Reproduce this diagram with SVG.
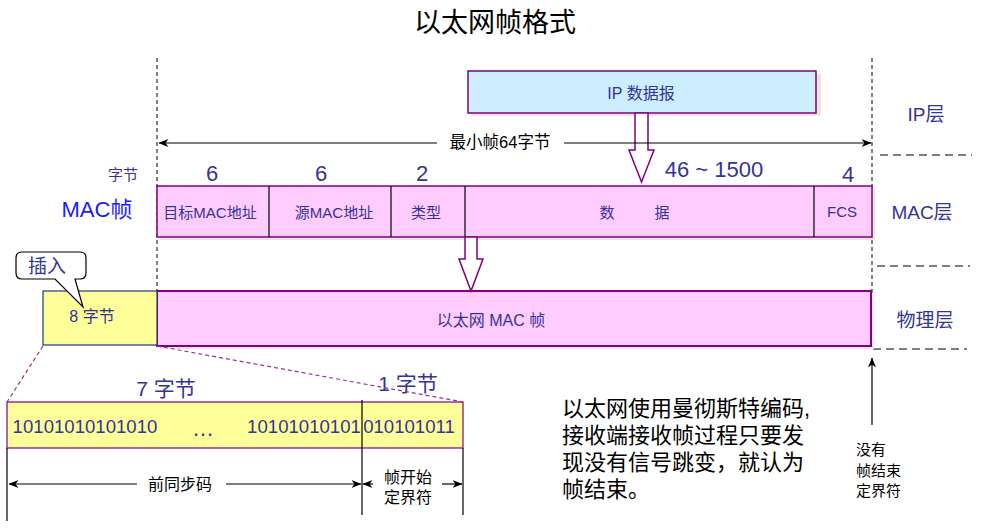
<svg xmlns="http://www.w3.org/2000/svg" width="993" height="528" viewBox="0 0 993 528">
<defs>
<marker id="ah" viewBox="0 0 10 8" refX="9.5" refY="4" markerWidth="10" markerHeight="8" markerUnits="userSpaceOnUse" orient="auto-start-reverse">
<path d="M0,0 L10,4 L0,8 L3,4 Z" fill="#000"/>
</marker>
</defs>
<style>
text{font-family:"Liberation Sans","Noto Sans CJK SC",sans-serif;}
.b{fill:#333399;}
.k{fill:#000;}
.pink{fill:#ffccff;stroke:#800080;stroke-width:1.5;}
.yel{fill:#ffff99;stroke:#800080;stroke-width:1.2;}
.sh{fill:#e9e6da;}
.div{stroke:#000;stroke-width:1.2;}
.vd{stroke:#000;stroke-width:1;stroke-dasharray:4,3;fill:none;}
.hd{stroke:#555;stroke-width:1.3;stroke-dasharray:8,5;fill:none;}
.pd{stroke:#993399;stroke-width:1.2;stroke-dasharray:4,3;fill:none;}
.ln{stroke:#000;stroke-width:1.2;fill:none;}
.hollow{fill:#fff;stroke:#800080;stroke-width:1.5;}
</style>
<rect width="993" height="528" fill="#fff"/>

<text x="495" y="32" font-size="27" text-anchor="middle" class="k">以太网帧格式</text>

<g id="guides">
<line x1="157" y1="58" x2="157" y2="290" class="vd"/>
<line x1="872" y1="58" x2="872" y2="352" class="vd"/>
<line x1="880" y1="155" x2="972" y2="155" class="hd"/>
<line x1="877" y1="266" x2="970" y2="266" class="hd"/>
<line x1="873" y1="349" x2="967" y2="349" class="hd"/>
</g>

<g id="layer-labels">
<text x="926" y="121" font-size="19" text-anchor="middle" class="b">IP层</text>
<text x="922" y="219" font-size="19" text-anchor="middle" class="b">MAC层</text>
<text x="925" y="327" font-size="19" text-anchor="middle" class="b">物理层</text>
</g>

<g id="ip-datagram">
<rect x="471" y="74" width="350" height="42" class="sh"/>
<rect x="468" y="71" width="348" height="42" fill="#cceeff" stroke="#800080" stroke-width="1.5"/>
<text x="641" y="99" font-size="16" text-anchor="middle" class="b">IP 数据报</text>
</g>

<g id="byte-labels">
<text x="123" y="180" font-size="15" text-anchor="middle" class="b">字节</text>
<text x="212" y="181" font-size="22" text-anchor="middle" class="b">6</text>
<text x="321" y="181" font-size="22" text-anchor="middle" class="b">6</text>
<text x="422" y="181" font-size="22" text-anchor="middle" class="b">2</text>
<text x="714" y="177" font-size="22" text-anchor="middle" class="b">46 ~ 1500</text>
<text x="848" y="182" font-size="22" text-anchor="middle" class="b">4</text>
<text x="97" y="217" font-size="22" text-anchor="middle" fill="#1a1aff">MAC帧</text>
</g>

<g id="mac-frame">
<rect x="160" y="189" width="715" height="51" class="sh"/>
<rect x="157" y="186" width="715" height="51" class="pink"/>
<line x1="269" y1="186" x2="269" y2="237" class="div"/>
<line x1="391" y1="186" x2="391" y2="237" class="div"/>
<line x1="465" y1="186" x2="465" y2="237" class="div"/>
<line x1="814" y1="186" x2="814" y2="237" class="div"/>
<text x="210" y="218" font-size="15" text-anchor="middle" class="b">目标MAC地址</text>
<text x="334" y="218" font-size="15" text-anchor="middle" class="b">源MAC地址</text>
<text x="426" y="218" font-size="15" text-anchor="middle" class="b">类型</text>
<text x="607" y="218" font-size="15" text-anchor="middle" class="b">数</text>
<text x="662" y="218" font-size="15" text-anchor="middle" class="b">据</text>
<text x="842" y="217" font-size="15" text-anchor="middle" class="b">FCS</text>
</g>

<g id="physical-frame">
<rect x="160" y="294" width="714" height="55" class="sh"/>
<rect x="157" y="291" width="714" height="55" fill="#ffccff" stroke="#800080" stroke-width="2"/>
<text x="491" y="326" font-size="16" text-anchor="middle" class="b">以太网 MAC 帧</text>
</g>

<g id="preamble-8">
<rect x="43" y="291" width="114" height="54" fill="#ffff99" stroke="#1f3a6e" stroke-width="1.2"/>
<text x="92" y="322" font-size="16" text-anchor="middle" class="b">8 字节</text>
</g>

<g id="callout">
<path d="M22,252 H80 Q86,252 86,258 V273 Q86,279 80,279 H75 L83,307 L55,279 H22 Q16,279 16,273 V258 Q16,252 22,252 Z" fill="#fff" stroke="#000" stroke-width="1.2"/>
<text x="47" y="273" font-size="19" text-anchor="middle" class="b">插入</text>
</g>

<g id="preamble-detail">
<rect x="7" y="402" width="456" height="46" class="yel"/>
<text x="85" y="433" font-size="18.6" text-anchor="middle" class="b">10101010101010</text>
<text x="203" y="436" font-size="22" text-anchor="middle" class="b">…</text>
<text x="304" y="433" font-size="18.6" text-anchor="middle" class="b">10101010101</text>
<text x="409" y="433" font-size="18.6" text-anchor="middle" class="b">010101011</text>
<text x="166" y="396" font-size="21" text-anchor="middle" class="b">7 字节</text>
<text x="408" y="391" font-size="21" text-anchor="middle" class="b">1 字节</text>
</g>

<g id="connectors">
<path d="M635,113 V150 H629 L641.5,182 L654,150 H648 V113 Z" class="hollow"/>
<path d="M465,237 V259 H459 L471,291 L483,259 H477 V237 Z" class="hollow"/>
<line x1="437" y1="143" x2="159" y2="143" class="ln" marker-end="url(#ah)"/>
<line x1="564" y1="143" x2="871" y2="143" class="ln" marker-end="url(#ah)"/>
<line x1="43" y1="346" x2="7" y2="402" class="pd"/>
<line x1="157" y1="346" x2="463" y2="402" class="pd"/>
<line x1="7" y1="448" x2="7" y2="521" class="ln"/>
<line x1="362" y1="400" x2="362" y2="515" class="ln"/>
<line x1="463" y1="448" x2="463" y2="515" class="ln"/>
<line x1="137" y1="484" x2="9" y2="484" class="ln" marker-end="url(#ah)"/>
<line x1="226" y1="484" x2="361" y2="484" class="ln" marker-end="url(#ah)"/>
<line x1="373" y1="484" x2="363" y2="484" class="ln" marker-end="url(#ah)"/>
<line x1="442" y1="484" x2="462" y2="484" class="ln" marker-end="url(#ah)"/>
<line x1="872" y1="425" x2="872" y2="358" class="ln" marker-end="url(#ah)"/>
</g>

<g id="dim-labels">
<rect x="440" y="133" width="122" height="20" fill="#fff"/>
<text x="500" y="148" font-size="16.5" text-anchor="middle" class="k">最小帧64字节</text>
<text x="180" y="490" font-size="16" text-anchor="middle" class="k">前同步码</text>
<text x="408" y="483" font-size="16" text-anchor="middle" class="k">帧开始</text>
<text x="408" y="503" font-size="16" text-anchor="middle" class="k">定界符</text>
<text x="856" y="455" font-size="15" class="k">没有</text>
<text x="856" y="476" font-size="15" class="k">帧结束</text>
<text x="856" y="496" font-size="15" class="k">定界符</text>
</g>

<g id="note">
<text x="562" y="416" font-size="22" class="k">以太网使用曼彻斯特编码,</text>
<text x="562" y="443" font-size="22" class="k">接收端接收帧过程只要发</text>
<text x="562" y="470" font-size="22" class="k">现没有信号跳变，就认为</text>
<text x="562" y="497" font-size="22" class="k">帧结束。</text>
</g>
</svg>
